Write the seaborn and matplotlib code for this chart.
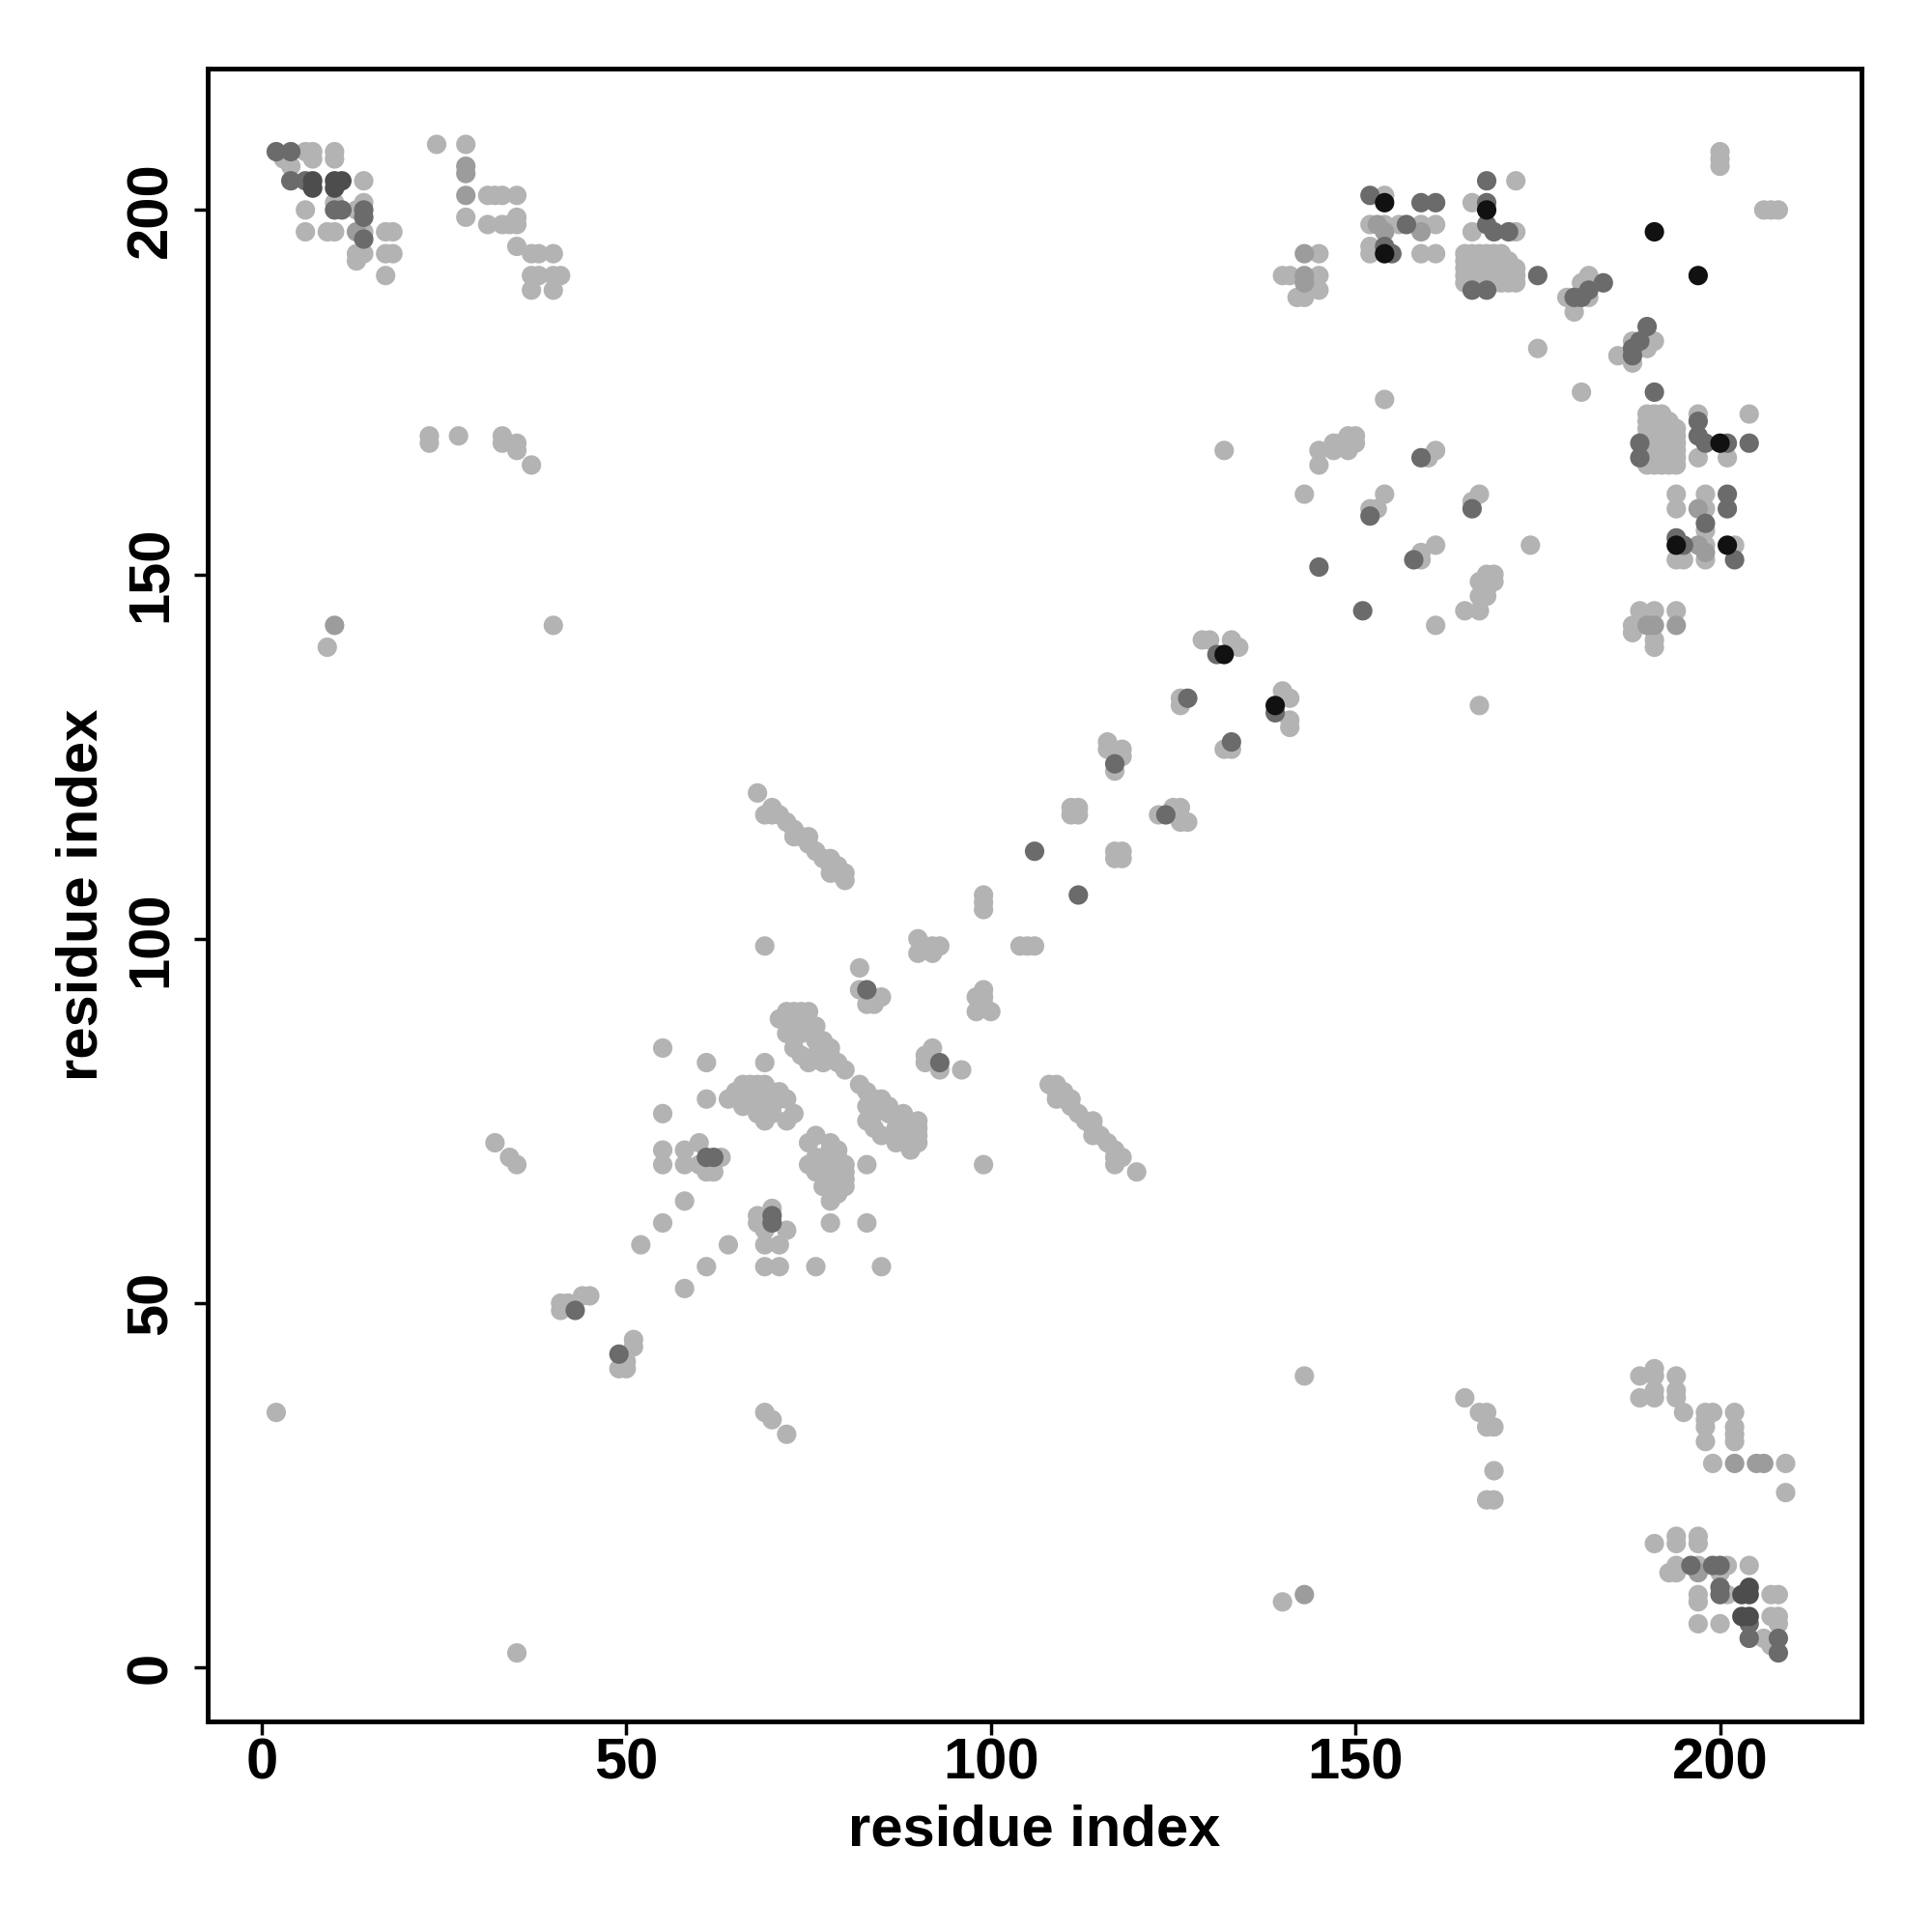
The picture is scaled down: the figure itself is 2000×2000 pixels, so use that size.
import numpy as np
import pandas as pd
import matplotlib
matplotlib.use("Agg")
import matplotlib.pyplot as plt
import seaborn as sns

light = [(3,207),(4,206),(6,208),(7,208),(7,207),(10,208),(10,207),(14,204),(6,200),(10,201),
         (13,200),(14,201),(6,197),(9,197),(10,197),(14,197),(17,197),(18,197),(13,194),(14,194),
         (13,193),(17,194),(18,194),(17,191),
         (24,209),(28,209),(31,202),(32,202),(33,202),(35,202),(28,199),(31,198),(33,198),(34,198),
         (35,199),(35,198),(35,195),(37,194),(38,194),(40,194),(37,191),(38,191),(40,191),(41,191),
         (37,189),(40,189),
         (23,169),(23,168),(27,169),(33,169),(33,168),(35,168),(35,167),(37,165),
         (9,140),(40,143),(2,35),(32,72),(34,70),(35,69),
         (41,49),(41,50),(42,50),(44,51),(45,51),(52,58),(55,61),(58,64),(55,69),(55,71),(58,69),
         (58,71),(60,72),(63,70),(61,68),(60,69),(62,68),(61,78),(55,76),(61,83),(55,85),(69,83),(69,99),
         (64,78),(65,79),(66,80),(67,80),(68,80),(69,80),(70,79),(71,79),(72,78),(71,78),(70,77),
         (69,77),(68,76),(69,75),(70,76),(67,78),(66,77),(68,78),(72,75),(73,76),
         (68,120),(69,117),(70,118),(70,117),(71,117),(72,116),(73,115),(73,114),(74,114),(75,114),
         (75,113),(76,112),(77,111),(78,111),(78,110),(79,110),(78,109),(79,109),(80,109),(80,108),
         (71,89),(72,90),(73,90),(74,90),(75,90),(72,87),(73,88),(73,85),(74,84),(76,86),(77,86),
         (77,85),(75,83),(76,84),(74,87),(75,88),(76,88),(73,89),(78,84),(79,83),(80,82),(78,85),(77,83),
         (82,96),(82,93),(85,92),(83,91),(84,91),(90,100),(90,98),(91,99),(92,99),(93,99),(92,98),
         (99,106),(99,105),(99,104),(111,118),(112,118),(111,117),(112,117),(116,127),(116,126),
         (118,126),(118,125),(117,123),(126,133),(126,132),(129,141),(130,141),(133,141),(134,140),
         (143,161),(145,165),(145,167),(147,168),(149,169),(150,169),(149,167),(150,168),(148,168),
         (147,167),(154,174),(152,159),(153,159),(154,161),(160,166),(161,167),(132,167),
         (175,181),(179,188),(180,186),(182,188),(182,191),(181,190),(200,206),(200,207),(200,208),
         (145,194),(140,191),(141,191),(145,191),(142,188),(143,188),(145,189),
         (154,202),(152,198),(154,198),(156,198),(159,198),(161,198),(152,194),(152,195),(159,194),
         (161,194),(172,204),(166,201),(166,197),(172,197),
         (165,190),(166,190),(167,190),(168,190),(169,190),(170,190),(171,190),(172,190),
         (165,191),(166,191),(167,191),(168,191),(169,191),(170,191),(171,191),(172,191),
         (165,192),(166,192),(167,192),(168,192),(169,192),(170,192),(171,192),(172,192),
         (165,193),(166,193),(167,193),(168,193),(169,193),(170,193),(171,193),
         (165,194),(166,194),(167,194),(168,194),(169,194),(170,194)]
mid = [(13,197),(28,206),(28,205),(28,202),(10,143),(143,194),(143,191),(143,190),
       (153,198),(154,197),(159,197)]
dark = [(2,208),(4,208),(4,204),(6,204),(10,200),(11,200),(14,200),(14,199),(14,196),
        (43,49),(61,70),(62,70),(83,93),(106,112),(117,124),(127,133),(131,139),(145,151),
        (152,158),(159,166),(175,191),(180,188),(181,188),(182,189),(184,190),(152,202),
        (159,201),(161,201),(157,198),(154,195),(155,194),(168,204),(168,201),(168,198),
        (169,197),(171,197),(166,189),(168,189)]
darker = [(7,204),(7,203),(10,204),(11,204),(10,203)]
black = [(132,139),(154,201),(154,194),(168,200),(191,197)]

levels = ["light", "mid", "dark", "darker", "black"]
shades = ["#b3b3b3", "#9c9c9c", "#6b6b6b", "#4d4d4d", "#111111"]

rows = []
for lev, pts in zip(levels, [light, mid, dark, darker, black]):
    for i, j in pts:
        rows.append((i, j, lev))
        rows.append((j, i, lev))
df = pd.DataFrame(rows, columns=["i", "j", "level"])

sns.set_theme(style="white")
plt.rcParams["font.family"] = ["Liberation Sans", "DejaVu Sans"]
plt.rcParams["font.weight"] = "bold"
plt.rcParams["text.color"] = "black"
plt.rcParams["axes.labelcolor"] = "black"
plt.rcParams["xtick.color"] = "black"
plt.rcParams["ytick.color"] = "black"

fig = plt.figure(figsize=(20, 20), dpi=100)
ax = fig.add_axes([0.1075, 0.109, 0.856, 0.8555])

sns.scatterplot(data=df, x="i", y="j", hue="level", hue_order=levels,
                palette=dict(zip(levels, shades)), s=210, linewidth=0,
                legend=False, ax=ax)

ax.set_xlim(-7.4, 219.4)
ax.set_ylim(-7.4, 219.4)
ticks = [0, 50, 100, 150, 200]
ax.set_xticks(ticks)
ax.set_yticks(ticks)
ax.set_xticklabels([str(t) for t in ticks], fontsize=43, fontweight="bold", color="black")
ax.set_yticklabels([str(t) for t in ticks], fontsize=43, fontweight="bold", color="black",
                   rotation=90, va="center")
ax.tick_params(axis="both", direction="out", length=10, width=2.5, color="black",
               bottom=True, left=True)
ax.tick_params(axis="x", pad=2)
ax.tick_params(axis="y", pad=12)
for sp in ax.spines.values():
    sp.set_linewidth(3.5)
    sp.set_color("black")

ax.set_xlabel("residue index", fontsize=43, fontweight="bold", color="black")
ax.set_ylabel("residue index", fontsize=43, fontweight="bold", color="black")
ax.xaxis.set_label_coords(0.5, -0.05)
ax.yaxis.set_label_coords(-0.06, 0.5)

fig.savefig("out.png", dpi=100, facecolor="white")
